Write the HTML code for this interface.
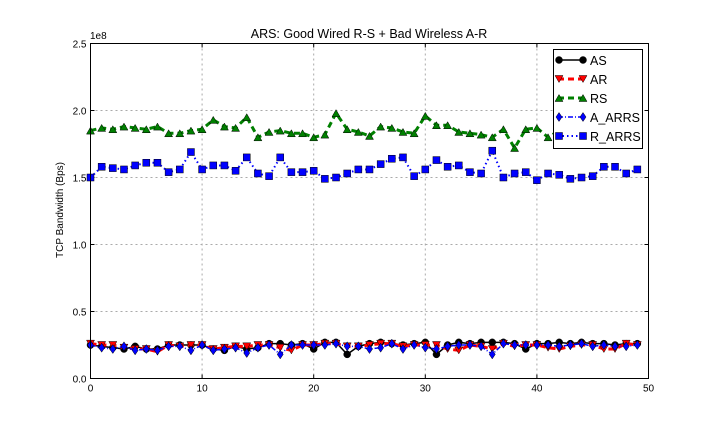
<!DOCTYPE html>
<html><head><meta charset="utf-8"><style>
body{margin:0;background:#fff;}
svg{display:block;font-family:"Liberation Sans",sans-serif;}
</style></head><body>
<svg id="chart" width="720" height="432">
<text x="369" y="38" text-anchor="middle" font-size="12.5">ARS: Good Wired R-S + Bad Wireless A-R</text>
<text x="90" y="39" font-size="10">1e8</text>
<text transform="translate(63,210) rotate(-90)" text-anchor="middle" font-size="10">TCP Bandwidth (Bps)</text>
<g id="grid"></g><g id="ticks"></g><g id="series"></g>
<rect x="90.5" y="43.5" width="558" height="335" fill="none" stroke="#000"/>
<g id="legend"></g>
</svg>
<script>
const xs = Array.from({length:50},(_,i)=>i);
const AS = [0.25,0.24,0.23,0.22,0.24,0.22,0.22,0.25,0.25,0.25,0.25,0.22,0.21,0.24,0.22,0.23,0.26,0.26,0.25,0.26,0.22,0.27,0.27,0.18,0.24,0.26,0.27,0.26,0.25,0.26,0.27,0.18,0.25,0.27,0.26,0.27,0.27,0.27,0.26,0.22,0.26,0.26,0.27,0.26,0.27,0.26,0.26,0.25,0.26,0.26];
const AR = [0.26,0.25,0.25,0.23,0.22,0.22,0.20,0.25,0.24,0.25,0.25,0.22,0.23,0.24,0.24,0.25,0.25,0.23,0.21,0.25,0.25,0.26,0.26,0.24,0.24,0.25,0.26,0.26,0.24,0.25,0.25,0.25,0.22,0.21,0.25,0.24,0.22,0.26,0.24,0.25,0.25,0.23,0.22,0.24,0.25,0.25,0.22,0.22,0.26,0.25];
const RS = [1.85,1.87,1.86,1.88,1.87,1.86,1.88,1.83,1.83,1.85,1.86,1.93,1.88,1.87,1.95,1.80,1.84,1.85,1.83,1.83,1.80,1.82,1.98,1.86,1.84,1.81,1.88,1.87,1.84,1.83,1.96,1.89,1.89,1.84,1.83,1.82,1.80,1.86,1.72,1.86,1.87,1.80,1.85,1.85,1.86,1.85,1.86,1.85,1.86,1.85];
const A_ARRS = [0.25,0.23,0.22,0.24,0.21,0.22,0.21,0.24,0.24,0.21,0.25,0.21,0.22,0.23,0.19,0.23,0.25,0.18,0.25,0.25,0.25,0.25,0.26,0.24,0.24,0.22,0.23,0.26,0.22,0.25,0.23,0.22,0.24,0.25,0.25,0.24,0.18,0.26,0.25,0.25,0.25,0.25,0.24,0.25,0.26,0.24,0.25,0.24,0.24,0.25];
const R_ARRS = [1.50,1.58,1.57,1.56,1.59,1.61,1.61,1.54,1.56,1.69,1.56,1.59,1.59,1.55,1.65,1.53,1.51,1.65,1.54,1.54,1.55,1.49,1.50,1.53,1.56,1.56,1.60,1.64,1.65,1.51,1.56,1.63,1.58,1.59,1.54,1.53,1.70,1.50,1.53,1.54,1.48,1.53,1.52,1.49,1.50,1.51,1.58,1.58,1.53,1.56];
const xTicks = [0,10,20,30,40,50];
const yTicks = [0,0.5,1.0,1.5,2.0,2.5];
const yTickLabels = ["0.0","0.5","1.0","1.5","2.0","2.5"];

const L=90.5,R=648.5,T=43.5,B=378.5;
const sx=v=>L+(v/50)*(R-L);
const sy=v=>B-(v/2.5)*(B-T);
const NS="http://www.w3.org/2000/svg";
function mk(tag,attrs,parent){const e=document.createElementNS(NS,tag);for(const k in attrs)e.setAttribute(k,attrs[k]);parent.appendChild(e);return e;}
const grid=document.getElementById('grid'),ticks=document.getElementById('ticks'),ser=document.getElementById('series'),leg=document.getElementById('legend');

xTicks.forEach(t=>{
  const x=sx(t);
  if(t>0&&t<50){const g=mk('line',{x1:x,x2:x,y1:T,y2:B,stroke:'#aaa','stroke-dasharray':'2,3'},grid);
  
  }
  mk('line',{x1:x,x2:x,y1:B,y2:B-4,stroke:'#000'},ticks);
  mk('line',{x1:x,x2:x,y1:T,y2:T+4,stroke:'#000'},ticks);
  const tx=mk('text',{x:x,y:B+13,'text-anchor':'middle','font-size':'10'},ticks);tx.textContent=t;
  
  
});
yTicks.forEach((t,i)=>{
  const y=sy(t);
  if(t>0&&t<2.5){const g=mk('line',{x1:L,x2:R,y1:y,y2:y,stroke:'#aaa','stroke-dasharray':'2,3'},grid);
  
  }
  mk('line',{x1:L,x2:L+4,y1:y,y2:y,stroke:'#000'},ticks);
  mk('line',{x1:R,x2:R-4,y1:y,y2:y,stroke:'#000'},ticks);
  const tx=mk('text',{x:L-4,y:y+4,'text-anchor':'end','font-size':'10'},ticks);tx.textContent=yTickLabels[i];
  
  
});

function marker(type,x,y,color,parent){
  let e;
  if(type==='o') e=mk('circle',{cx:x,cy:y,r:3.5,fill:color,stroke:'#000','stroke-width':0.5},parent);
  else if(type==='v') e=mk('polygon',{points:`${x-4},${y-3.5} ${x+4},${y-3.5} ${x},${y+3.5}`,fill:color,stroke:'#000','stroke-width':0.5},parent);
  else if(type==='^') e=mk('polygon',{points:`${x-4},${y+3.5} ${x+4},${y+3.5} ${x},${y-3.5}`,fill:color,stroke:'#000','stroke-width':0.5},parent);
  else if(type==='d') e=mk('polygon',{points:`${x},${y-4.5} ${x+3},${y} ${x},${y+4.5} ${x-3},${y}`,fill:color,stroke:'#000','stroke-width':0.5},parent);
  else e=mk('rect',{x:x-3.5,y:y-3.5,width:7,height:7,fill:color,stroke:'#000','stroke-width':0.5},parent);
  return e;
}
const series=[
 {name:'AS',data:AS,color:'#000',dash:'',m:'o',w:1.5},
 {name:'AR',data:AR,color:'red',dash:'6,4',m:'v',w:3},
 {name:'RS',data:RS,color:'green',dash:'6,4',m:'^',w:3},
 {name:'A_ARRS',data:A_ARRS,color:'blue',dash:'5,2,1,2',m:'d',w:1.5},
 {name:'R_ARRS',data:R_ARRS,color:'blue',dash:'1.5,3',m:'s',w:2}
];
series.forEach(s=>{
  const g=mk('g',{},ser);
  
  
  const pts=xs.map(i=>sx(i)+','+sy(s.data[i])).join(' ');
  const pl=mk('polyline',{points:pts,fill:'none',stroke:s.color,'stroke-width':s.w,'stroke-dasharray':s.dash},g);
  
  
  xs.forEach(i=>{const m=marker(s.m,sx(i),sy(s.data[i]),s.color,g);
    
    });
});
const lb=mk('rect',{x:553.5,y:49.5,width:89,height:99,fill:'#fff',stroke:'#000'},leg);


series.forEach((s,i)=>{
  const y=60+i*19;
  const g=mk('g',{},leg);
  
  
  mk('line',{x1:558,x2:584,y1:y,y2:y,stroke:s.color,'stroke-width':s.w,'stroke-dasharray':s.dash},g);
  marker(s.m,559,y,s.color,g);marker(s.m,583,y,s.color,g);
  const t=mk('text',{x:590,y:y+5,'font-size':'12.5'},g);t.textContent=s.name;
});
</script>
</body></html>
